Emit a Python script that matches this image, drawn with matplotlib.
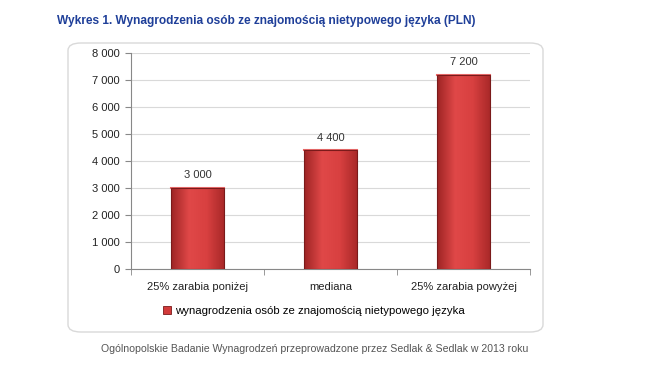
import matplotlib
matplotlib.use("Agg")
import matplotlib.pyplot as plt
import numpy as np
from matplotlib.patches import FancyBboxPatch
from matplotlib.colors import LinearSegmentedColormap

categories = ["25% zarabia poniżej", "mediana", "25% zarabia powyżej"]
values = [3000, 4400, 7200]
value_labels = ["3 000", "4 400", "7 200"]
yticks = [0, 1000, 2000, 3000, 4000, 5000, 6000, 7000, 8000]
ytick_labels = ["0", "1 000", "2 000", "3 000", "4 000", "5 000", "6 000", "7 000", "8 000"]
series_name = "wynagrodzenia osób ze znajomością nietypowego języka"
title = "Wykres 1. Wynagrodzenia osób ze znajomością nietypowego języka (PLN)"
source = "Ogólnopolskie Badanie Wynagrodzeń przeprowadzone przez Sedlak & Sedlak w 2013 roku"

plt.rcParams['font.family'] = ['Liberation Sans', 'DejaVu Sans']

fig = plt.figure(figsize=(6.5, 3.69), dpi=100)
W, H = 650, 369

# rounded chart frame
box = FancyBboxPatch((68 / W, 1 - 332 / H), (543 - 68) / W, (332 - 43) / H,
                     boxstyle="round,pad=0,rounding_size=0.02",
                     transform=fig.transFigure, facecolor="white",
                     edgecolor="#D9D9D9", linewidth=1.0, zorder=-5)
fig.patches.append(box)

ax = fig.add_axes([131 / W, 1 - 269 / H, (530 - 131) / W, (269 - 53) / H])
ax.set_facecolor("none")
ax.set_zorder(2)

x = np.arange(len(categories))
bars = ax.bar(x, values, width=0.4, color="#D23A3A", edgecolor="#7A1A1A",
              linewidth=0.8, zorder=3)

# horizontal gradient inside each bar
cmap = LinearSegmentedColormap.from_list("g", ["#9E2424", "#E04848", "#D84040", "#A82828"])
grad = np.linspace(0, 1, 64).reshape(1, -1)
for b in bars:
    x0, w, h = b.get_x(), b.get_width(), b.get_height()
    im = ax.imshow(grad, cmap=cmap, aspect="auto", extent=(x0, x0 + w, 0, h), zorder=3.5)
    im.set_clip_path(b)
for b in bars:
    x0, w, h = b.get_x(), b.get_width(), b.get_height()
    ax.plot([x0, x0 + w], [h, h], color="#E86A6A", linewidth=1.5, zorder=4)
for b in bars:
    b.set_facecolor("none")
    b.set_zorder(5)

for xi, v, lab in zip(x, values, value_labels):
    ax.text(xi, v + 280, lab, ha="center", va="bottom", fontsize=8, color="#333333")

ax.set_xlim(-0.5, len(categories) - 0.5)
ax.set_ylim(0, 8000)
ax.set_yticks(yticks)
ax.set_yticklabels(ytick_labels, fontsize=8, color="#222222")
ax.set_xticks(x)
ax.set_xticklabels(categories, fontsize=8, color="#222222")
ax.tick_params(axis="x", length=0, pad=9)
ax.tick_params(axis="y", length=4, color="#888888", pad=4)
ax.set_xticks(np.arange(-0.5, len(categories), 1), minor=True)
ax.tick_params(axis="x", which="minor", length=4, color="#888888", direction="out")
ax.yaxis.grid(True, color="#D9D9D9", linewidth=0.8, zorder=0)
ax.set_axisbelow(True)
for s in ["top", "right"]:
    ax.spines[s].set_visible(False)
ax.spines["left"].set_color("#888888")
ax.spines["bottom"].set_color("#888888")

# legend
leg_handle = plt.Rectangle((0, 0), 1, 1, facecolor="#D23A3A", edgecolor="#7A1A1A", linewidth=0.6)
fig.legend([leg_handle], [series_name], loc="center", bbox_to_anchor=(314 / W, 1 - 311 / H),
           frameon=False, fontsize=8.2, handlelength=0.7, handleheight=0.7, handletextpad=0.4)

fig.text(57 / W, 1 - 21 / H, title, ha="left", va="center", fontsize=8.6, fontweight="bold",
         color="#1F3F99")
fig.text(315 / W, 1 - 349 / H, source, ha="center", va="center", fontsize=7.6, color="#555555")

fig.savefig("out.png", dpi=100, facecolor="white")
